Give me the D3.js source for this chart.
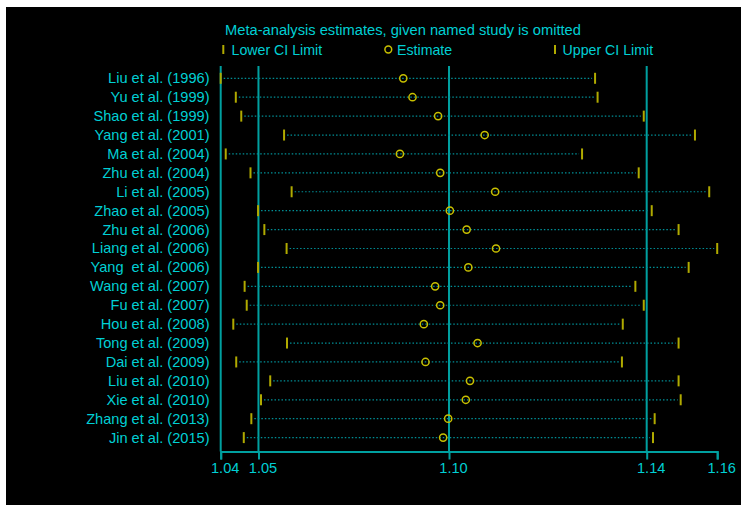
<!DOCTYPE html>
<html>
<head>
<meta charset="utf-8">
<script src="https://cdn.jsdelivr.net/npm/d3@7"></script>
<style>
  html, body { margin: 0; padding: 0; background: #ffffff; }
  svg { display: block; font-family: "Liberation Sans", Arial, sans-serif; }
</style>
</head>
<body>
<svg id="chart" width="756" height="508"></svg>
<script>
// ---- data ----
const studies = [
  "Liu et al. (1996)", "Yu et al. (1999)", "Shao et al. (1999)", "Yang et al. (2001)",
  "Ma et al. (2004)", "Zhu et al. (2004)", "Li et al. (2005)", "Zhao et al. (2005)",
  "Zhu et al. (2006)", "Liang et al. (2006)", "Yang  et al. (2006)", "Wang et al. (2007)",
  "Fu et al. (2007)", "Hou et al. (2008)", "Tong et al. (2009)", "Dai et al. (2009)",
  "Liu et al. (2010)", "Xie et al. (2010)", "Zhang et al. (2013)", "Jin et al. (2015)"
];
const lowerCI = [1.0416, 1.0452, 1.0465, 1.0567, 1.0428, 1.0487, 1.0585, 1.0505, 1.0520, 1.0573,
                 1.0505, 1.0473, 1.0478, 1.0446, 1.0574, 1.0453, 1.0534, 1.0512, 1.0489, 1.0471];
const estimate = [1.0851, 1.0873, 1.0934, 1.1045, 1.0843, 1.0939, 1.1070, 1.0962, 1.1002, 1.1072,
                  1.1006, 1.0927, 1.0939, 1.0900, 1.1028, 1.0904, 1.1010, 1.1000, 1.0958, 1.0946];
const upperCI = [1.1308, 1.1314, 1.1424, 1.1546, 1.1277, 1.1412, 1.1580, 1.1443, 1.1507, 1.1599,
                 1.1531, 1.1404, 1.1424, 1.1374, 1.1507, 1.1372, 1.1507, 1.1512, 1.1450, 1.1446];
const overall = [1.0506, 1.0960, 1.1431];          // pooled lower CI, estimate, upper CI
const tickValues = [1.0416, 1.0506, 1.0960, 1.1431, 1.1599];
const tickLabels = ["1.04", "1.05", "1.10", "1.14", "1.16"];
const titleText = "Meta-analysis estimates, given named study is omitted";
const legendLabels = ["Lower CI Limit", "Estimate", "Upper CI Limit"];

// ---- style ----
const cText = "#00cfd4";
const cLine = "#00a0a0";
const cDot = "#008f96";
const cBar = "#b0aa00";
const cCircle = "#c8c000";

const svg = d3.select("#chart");
svg.append("rect").attr("x", 6).attr("y", 7).attr("width", 735).attr("height", 498).attr("fill", "#000");

const x = d3.scaleLinear().domain([tickValues[0], tickValues[tickValues.length - 1]]).range([220.7, 717.2]);
const y = d3.scalePoint().domain(d3.range(studies.length)).range([78.3, 437.6]);
const axisY = 451.5, topY = 66;

// title + legend
svg.append("text").attr("x", 225).attr("y", 35).attr("fill", cText).attr("font-size", 14.7).text(titleText);
const legY = 49.5;
const legItems = [
  {type: "bar", mx: 223.3, tx: 231.5},
  {type: "circle", mx: 388.3, tx: 397},
  {type: "bar", mx: 555, tx: 562.5}
];
legItems.forEach((d, i) => {
  if (d.type === "bar") {
    svg.append("line").attr("x1", d.mx).attr("x2", d.mx).attr("y1", legY - 4.5).attr("y2", legY + 4.5)
      .attr("stroke", cBar).attr("stroke-width", 2);
  } else {
    svg.append("circle").attr("cx", d.mx).attr("cy", legY).attr("r", 3.4)
      .attr("fill", "none").attr("stroke", cCircle).attr("stroke-width", 1.5);
  }
  svg.append("text").attr("x", d.tx).attr("y", legY + 5).attr("fill", cText).attr("font-size", 14.2).text(legendLabels[i]);
});

// vertical reference lines (y-axis line + overall CI/estimate)
[tickValues[0]].concat(overall).forEach(v => {
  svg.append("line").attr("x1", x(v)).attr("x2", x(v)).attr("y1", topY).attr("y2", axisY)
    .attr("stroke", cLine).attr("stroke-width", 2);
});

// rows
const rows = svg.append("g").selectAll("g").data(studies).join("g");
rows.append("line")
  .attr("x1", (d, i) => x(lowerCI[i]) + 3).attr("x2", (d, i) => x(upperCI[i]) - 3)
  .attr("y1", (d, i) => y(i)).attr("y2", (d, i) => y(i))
  .attr("stroke", cDot).attr("stroke-width", 1.2).attr("stroke-dasharray", "1.5,2");
rows.append("line")
  .attr("x1", (d, i) => x(lowerCI[i])).attr("x2", (d, i) => x(lowerCI[i]))
  .attr("y1", (d, i) => y(i) - 5.5).attr("y2", (d, i) => y(i) + 5.5)
  .attr("stroke", cBar).attr("stroke-width", 2);
rows.append("line")
  .attr("x1", (d, i) => x(upperCI[i])).attr("x2", (d, i) => x(upperCI[i]))
  .attr("y1", (d, i) => y(i) - 5.5).attr("y2", (d, i) => y(i) + 5.5)
  .attr("stroke", cBar).attr("stroke-width", 2);
rows.append("circle")
  .attr("cx", (d, i) => x(estimate[i])).attr("cy", (d, i) => y(i)).attr("r", 3.6)
  .attr("fill", "none").attr("stroke", cCircle).attr("stroke-width", 1.5);
rows.append("text")
  .attr("x", 209.5).attr("y", (d, i) => y(i) + 5)
  .attr("text-anchor", "end").attr("fill", cText).attr("font-size", 14.6)
  .style("white-space", "pre").text(d => d);

// x axis
const axis = d3.axisBottom(x).tickValues(tickValues).tickFormat((d, i) => tickLabels[i]).tickSizeOuter(0).tickSize(8);
const gx = svg.append("g").attr("transform", `translate(0,${axisY})`).call(axis);
gx.select(".domain").attr("stroke", cLine).attr("stroke-width", 2);
gx.selectAll(".tick line").attr("stroke", cLine).attr("stroke-width", 2);
gx.selectAll(".tick text").attr("fill", cText).attr("font-size", 14.6)
  .attr("font-family", "'Liberation Sans', Arial, sans-serif")
  .attr("y", 11.5).attr("dy", "0.71em").attr("dx", 4);
</script>
</body>
</html>
